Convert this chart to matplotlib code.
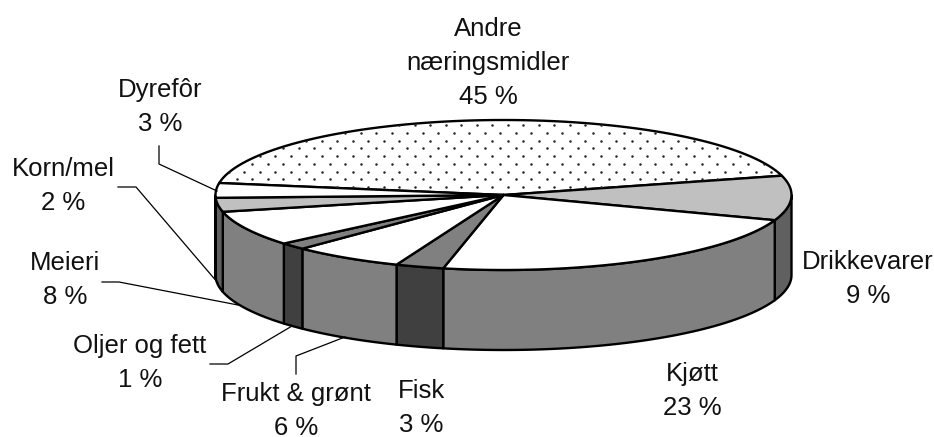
import numpy as np
import matplotlib
matplotlib.use('Agg')
import matplotlib.pyplot as plt
from matplotlib.patches import Polygon

plt.rcParams['font.family'] = ['Liberation Sans', 'DejaVu Sans']

names = ['Andre\nnæringsmidler', 'Drikkevarer', 'Kjøtt', 'Fisk', 'Frukt & grønt',
         'Oljer og fett', 'Meieri', 'Korn/mel', 'Dyrefôr']
# printed on the labels
shares = [45, 9, 23, 3, 6, 1, 8, 2, 3]
# slice sizes as they are drawn in the picture (the 3D view skews them a little)
drawn_shares = [43.3, 9.6, 22.9, 2.7, 6.25, 1.5, 7.6, 3.0, 3.15]
top_colors = ['white', '#c0c0c0', 'white', '#808080', 'white', '#808080', 'white', '#c0c0c0', 'white']
side_colors = ['#808080', '#606060', '#808080', '#404040', '#808080', '#404040', '#808080', '#606060', '#606060']
label_pos = [(488, 63), (868, 279), (692, 391), (421, 408), (296, 411), (140, 363), (65, 280), (63, 186), (160, 107)]
# label leader lines, pixel coords
leaders = [((159, 146), (159, 164), (217, 191)), ((118, 187), (136, 187), (218, 283)),
           ((102, 282), (119, 282), (238, 305)), ((210, 364), (228, 364), (292, 326)),
           ((296, 374), (296, 356), (345, 337))]

cx, cy = 503.5, 195
a, b = 288, 75
depth = 80
start = 170.8


def arc(t0, t1):
    t = np.radians(np.linspace(t0, t1, 80))
    return np.c_[cx + a * np.cos(t), cy - b * np.sin(t)]


fig = plt.figure(figsize=(9.34, 4.37), dpi=100)
ax = fig.add_axes([0, 0, 1, 1])
ax.set_xlim(0, 934)
ax.set_ylim(437, 0)
ax.axis('off')

# slices run clockwise from the left end of the big one
edges = start - np.r_[0, np.cumsum(drawn_shares)] * 3.6

# sides first: only the front half of the ellipse is visible
for i in range(len(shares)):
    t0, t1 = min(edges[i], 0), max(edges[i + 1], -180)
    if t0 <= t1:
        continue
    pts = arc(t0, t1)
    low = pts[::-1] + [0, depth]
    ax.add_patch(Polygon(np.r_[pts, low], closed=True, fc=side_colors[i], ec='black', lw=1.7, joinstyle='round'))

for i in range(len(shares)):
    pts = arc(edges[i], edges[i + 1])
    wedge = Polygon(np.r_[[[cx, cy]], pts], closed=True, fc=top_colors[i], ec='black', lw=1.7, joinstyle='round')
    ax.add_patch(wedge)
    if i == 0:
        # dotted fill of the big slice
        rows = np.arange(117.3, 200, 7.75)
        xs, ys = [], []
        for k, y in enumerate(rows):
            x = np.arange(221.2 + (k % 2) * 7.75, 800, 15.5)
            xs.extend(x)
            ys.extend([y] * len(x))
        dots = ax.scatter(xs, ys, s=3.2, c='#222222', linewidths=0, zorder=3)
        dots.set_clip_path(wedge)

for line in leaders:
    p = np.array(line)
    ax.plot(p[:, 0], p[:, 1], color='black', lw=0.9, zorder=4)

for name, share, (x, y) in zip(names, shares, label_pos):
    ax.text(x, y, f'{name}\n{share} %', ha='center', va='center', fontsize=18.5, linespacing=1.5,
            color='#111111', clip_on=False)

fig.savefig('out.png', dpi=100)
